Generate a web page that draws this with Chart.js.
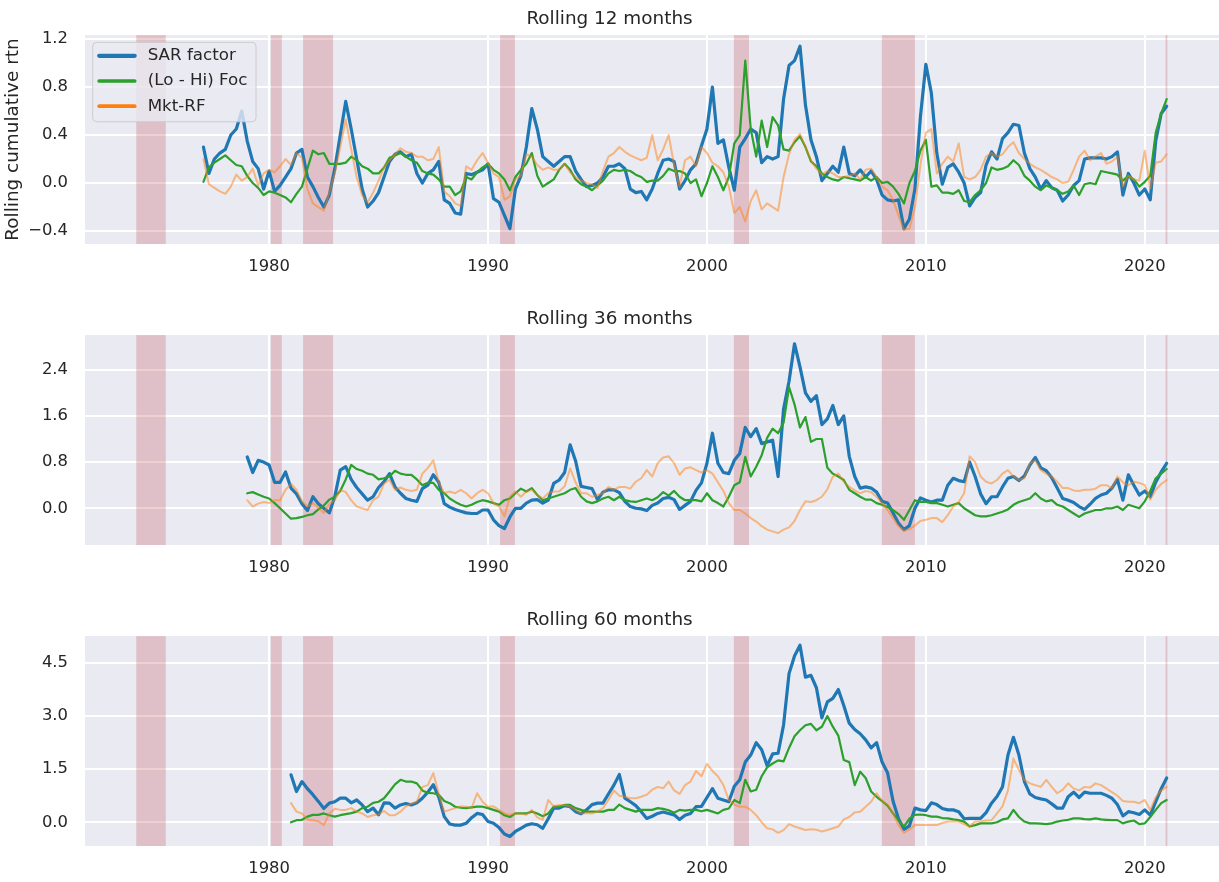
<!DOCTYPE html>
<html>
<head>
<meta charset="utf-8">
<title>Rolling cumulative returns</title>
<script src="https://cdn.jsdelivr.net/npm/chart.js@4.4.1/dist/chart.umd.min.js"></script>
<style>
  html, body { margin: 0; padding: 0; background: #ffffff; }
  #wrap { position: relative; width: 1219px; height: 882px; overflow: hidden; }
  #wrap canvas { position: absolute; left: 0; }
</style>
</head>
<body>
<div id="wrap">
  <canvas id="roll12" width="1219" height="281" style="top:0px"></canvas>
  <canvas id="roll36" width="1219" height="281" style="top:300px"></canvas>
  <canvas id="roll60" width="1219" height="281" style="top:601px"></canvas>
</div>
<script>
// Rolling cumulative return charts (12 / 36 / 60 month windows)

const FONT = 'DejaVu Sans';
const TEXT = '#262626';
const AXES_BG = '#eaeaf2';

// x axis (decimal years)
const xMin = 1971.59;
const xMax = 2023.39;
const yearTicks = [1980, 1990, 2000, 2010, 2020];

// NBER recessions, shaded
const recessions = [
  [1973.93, 1975.28],
  [1980.08, 1980.58],
  [1981.55, 1982.92],
  [1990.55, 1991.23],
  [2001.23, 2001.92],
  [2007.99, 2009.5],
  [2020.95, 2021.03],
];

const seriesNames = ['SAR factor', '(Lo - Hi) Foc', 'Mkt-RF'];
const seriesColors = ['#1f77b4', '#2ca02c', '#ff7f0e'];

// Rolling 12 months, quarterly from 1977.0 to 2021.0
const start12 = 1977;
const sar12 = [
  0.30, 0.08, 0.20, 0.25, 0.28, 0.40, 0.45, 0.60, 0.35, 0.18, 0.12, -0.05,
  0.10, -0.07, -0.02, 0.05, 0.12, 0.25, 0.28, 0.05, -0.03, -0.12, -0.20, -0.10,
  0.12, 0.40, 0.68, 0.45, 0.20, -0.05, -0.20, -0.15, -0.08, 0.05, 0.18, 0.24,
  0.26, 0.22, 0.24, 0.08, 0.00, 0.08, 0.11, 0.18, -0.14, -0.17, -0.25, -0.26,
  0.08, 0.07, 0.09, 0.11, 0.16, -0.13, -0.16, -0.27, -0.38, -0.05, 0.06, 0.30,
  0.62, 0.45, 0.22, 0.18, 0.14, 0.18, 0.22, 0.22, 0.10, 0.03, -0.03, -0.02,
  0.00, 0.05, 0.14, 0.14, 0.16, 0.12, -0.05, -0.08, -0.07, -0.14, -0.05, 0.08,
  0.19, 0.20, 0.18, -0.05, 0.02, 0.11, 0.16, 0.31, 0.45, 0.80, 0.33, 0.36,
  0.13, -0.06, 0.30, 0.37, 0.45, 0.42, 0.17, 0.22, 0.20, 0.22, 0.70, 0.98,
  1.02, 1.14, 0.65, 0.36, 0.22, 0.02, 0.08, 0.14, 0.09, 0.30, 0.08, 0.06,
  0.11, 0.05, 0.10, 0.03, -0.10, -0.14, -0.15, -0.14, -0.38, -0.30, -0.05, 0.55,
  0.99, 0.75, 0.25, -0.01, 0.13, 0.16, 0.09, 0.00, -0.19, -0.12, -0.08, 0.15,
  0.26, 0.20, 0.37, 0.42, 0.49, 0.48, 0.25, 0.12, 0.05, -0.05, 0.02, -0.04,
  -0.06, -0.15, -0.10, -0.02, 0.02, 0.20, 0.21, 0.21, 0.21, 0.20, 0.22, 0.26,
  -0.10, 0.08, 0.00, -0.10, -0.05, -0.14, 0.35, 0.58, 0.64,
];
const foc12 = [
  0.01, 0.13, 0.17, 0.20, 0.23, 0.19, 0.15, 0.14, 0.06, 0.00, -0.04, -0.10,
  -0.07, -0.08, -0.10, -0.12, -0.16, -0.09, -0.03, 0.12, 0.27, 0.24, 0.25, 0.16,
  0.16, 0.16, 0.17, 0.22, 0.19, 0.14, 0.12, 0.08, 0.08, 0.13, 0.21, 0.23,
  0.25, 0.22, 0.19, 0.17, 0.10, 0.08, 0.07, 0.03, -0.03, -0.03, -0.10, -0.07,
  0.05, 0.03, 0.09, 0.13, 0.16, 0.11, 0.08, 0.03, -0.06, 0.05, 0.11, 0.16,
  0.25, 0.06, -0.03, 0.00, 0.03, 0.11, 0.16, 0.11, 0.03, -0.01, -0.03, -0.06,
  -0.02, 0.02, 0.08, 0.11, 0.10, 0.11, 0.10, 0.07, 0.05, 0.01, 0.02, 0.02,
  0.06, 0.12, 0.10, 0.10, 0.08, 0.00, 0.03, -0.11, 0.00, 0.14, 0.05, -0.06,
  0.05, 0.33, 0.40, 1.02, 0.45, 0.22, 0.52, 0.30, 0.55, 0.48, 0.28, 0.27,
  0.34, 0.39, 0.30, 0.18, 0.14, 0.08, 0.05, 0.03, 0.02, 0.05, 0.04, 0.03,
  0.02, 0.05, 0.02, 0.05, 0.00, 0.01, -0.03, -0.09, -0.17, 0.00, 0.10, 0.27,
  0.36, -0.03, -0.02, -0.08, -0.08, -0.09, -0.06, -0.15, -0.16, -0.10, -0.06, 0.00,
  0.13, 0.11, 0.12, 0.14, 0.19, 0.15, 0.06, 0.02, -0.03, -0.06, -0.02, -0.04,
  -0.06, -0.09, -0.07, -0.02, -0.10, -0.01, 0.00, -0.01, 0.10, 0.09, 0.08, 0.07,
  0.02, 0.06, 0.03, -0.03, 0.01, 0.06, 0.42, 0.58, 0.70,
];
const mkt12 = [
  0.20, -0.01, -0.04, -0.07, -0.09, -0.03, 0.07, 0.02, 0.05, 0.12, -0.02, 0.08,
  0.11, 0.09, 0.14, 0.20, 0.15, 0.25, 0.21, -0.05, -0.17, -0.20, -0.23, -0.08,
  0.08, 0.30, 0.53, 0.28, 0.05, -0.10, -0.16, -0.08, 0.02, 0.13, 0.19, 0.24,
  0.29, 0.26, 0.25, 0.22, 0.22, 0.19, 0.20, 0.30, -0.07, -0.11, -0.17, -0.19,
  0.14, 0.11, 0.19, 0.25, 0.17, 0.08, 0.05, -0.14, -0.11, 0.03, 0.06, 0.24,
  0.22, 0.15, 0.11, 0.13, 0.11, 0.11, 0.16, 0.09, 0.05, 0.02, 0.00, -0.01,
  -0.04, 0.10, 0.22, 0.25, 0.30, 0.26, 0.23, 0.21, 0.19, 0.21, 0.40, 0.19,
  0.28, 0.40, 0.15, -0.03, 0.19, 0.22, 0.14, 0.30, 0.25, 0.17, 0.14, 0.09,
  -0.03, -0.25, -0.20, -0.32, -0.15, -0.06, -0.22, -0.17, -0.20, -0.23, 0.05, 0.24,
  0.36, 0.41, 0.30, 0.19, 0.12, 0.07, 0.10, 0.08, 0.05, 0.05, 0.06, 0.08,
  0.03, 0.11, 0.12, 0.05, -0.03, -0.06, -0.14, -0.27, -0.39, -0.38, -0.20, 0.15,
  0.42, 0.45, 0.08, 0.16, 0.22, 0.18, 0.33, 0.05, 0.03, 0.05, 0.11, 0.22,
  0.25, 0.22, 0.24, 0.30, 0.34, 0.25, 0.20, 0.16, 0.13, 0.11, 0.08, 0.05,
  0.03, 0.00, 0.01, 0.11, 0.22, 0.27, 0.19, 0.22, 0.25, 0.16, 0.18, 0.22,
  -0.03, 0.06, 0.03, 0.02, 0.27, -0.05, 0.17, 0.18, 0.24,
];
const yTicks12 = [-0.4, 0.0, 0.4, 0.8, 1.2];

// Rolling 36 months, quarterly from 1979.0 to 2021.0
const start36 = 1979;
const sar36 = [
  0.89, 0.62, 0.83, 0.80, 0.75, 0.45, 0.45, 0.63, 0.35, 0.25, 0.08, -0.04,
  0.20, 0.08, 0.00, -0.08, 0.20, 0.66, 0.72, 0.50, 0.36, 0.25, 0.14, 0.20,
  0.36, 0.46, 0.60, 0.37, 0.26, 0.17, 0.14, 0.12, 0.34, 0.40, 0.58, 0.45,
  0.08, 0.02, -0.02, -0.05, -0.08, -0.09, -0.09, -0.03, -0.03, -0.20, -0.30, -0.35,
  -0.15, 0.00, 0.00, 0.09, 0.14, 0.15, 0.09, 0.14, 0.43, 0.49, 0.62, 1.10,
  0.82, 0.38, 0.36, 0.34, 0.15, 0.28, 0.32, 0.32, 0.27, 0.12, 0.03, 0.00,
  -0.01, -0.04, 0.05, 0.09, 0.17, 0.19, 0.15, -0.02, 0.05, 0.12, 0.31, 0.44,
  0.78, 1.30, 0.78, 0.62, 0.60, 0.83, 0.95, 1.40, 1.24, 1.38, 1.12, 1.15,
  1.18, 0.55, 1.72, 2.20, 2.85, 2.45, 2.00, 1.85, 1.95, 1.45, 1.55, 1.78,
  1.45, 1.60, 0.90, 0.55, 0.35, 0.37, 0.35, 0.28, 0.12, 0.09, -0.08, -0.26,
  -0.37, -0.30, 0.00, 0.18, 0.14, 0.11, 0.14, 0.14, 0.40, 0.52, 0.48, 0.46,
  0.80, 0.55, 0.25, 0.08, 0.20, 0.20, 0.37, 0.52, 0.55, 0.48, 0.56, 0.75,
  0.88, 0.70, 0.65, 0.53, 0.35, 0.17, 0.14, 0.10, 0.03, -0.02, 0.07, 0.17,
  0.23, 0.26, 0.35, 0.50, 0.14, 0.58, 0.40, 0.23, 0.30, 0.20, 0.45, 0.63,
  0.78,
];
const foc36 = [
  0.26, 0.28, 0.24, 0.20, 0.17, 0.09, 0.00, -0.09, -0.18, -0.17, -0.15, -0.12,
  -0.10, -0.02, 0.05, 0.15, 0.20, 0.30, 0.50, 0.75, 0.68, 0.65, 0.60, 0.58,
  0.50, 0.52, 0.55, 0.65, 0.60, 0.58, 0.58, 0.50, 0.40, 0.44, 0.44, 0.32,
  0.26, 0.17, 0.11, 0.06, 0.03, 0.06, 0.11, 0.14, 0.12, 0.09, 0.06, 0.14,
  0.17, 0.26, 0.34, 0.29, 0.35, 0.23, 0.14, 0.17, 0.20, 0.23, 0.26, 0.32,
  0.35, 0.20, 0.12, 0.09, 0.12, 0.17, 0.20, 0.14, 0.20, 0.14, 0.12, 0.11,
  0.14, 0.17, 0.14, 0.19, 0.28, 0.22, 0.30, 0.20, 0.14, 0.14, 0.14, 0.12,
  0.26, 0.14, 0.09, 0.03, 0.20, 0.40, 0.45, 0.89, 0.55, 0.72, 0.92, 1.22,
  1.38, 1.30, 1.48, 2.10, 1.80, 1.40, 1.58, 1.15, 1.20, 1.20, 0.70, 0.60,
  0.55, 0.49, 0.32, 0.26, 0.20, 0.15, 0.15, 0.09, 0.06, 0.02, -0.03, -0.10,
  -0.20, -0.03, 0.14, 0.11, 0.11, 0.09, 0.09, 0.06, 0.03, 0.06, 0.09, 0.00,
  -0.06, -0.12, -0.14, -0.14, -0.12, -0.09, -0.06, -0.02, 0.06, 0.11, 0.14, 0.17,
  0.26, 0.17, 0.12, 0.14, 0.06, 0.03, -0.03, -0.09, -0.15, -0.09, -0.06, -0.03,
  -0.03, 0.00, 0.00, 0.03, -0.03, 0.06, 0.03, 0.00, 0.12, 0.30, 0.52, 0.60,
  0.68,
];
const mkt36 = [
  0.14, 0.03, 0.08, 0.11, 0.09, 0.14, 0.14, 0.32, 0.42, 0.32, 0.12, 0.03,
  0.09, 0.01, -0.08, 0.07, 0.14, 0.32, 0.28, 0.14, 0.03, 0.00, -0.03, 0.14,
  0.20, 0.43, 0.49, 0.32, 0.36, 0.32, 0.30, 0.32, 0.60, 0.70, 0.83, 0.45,
  0.26, 0.29, 0.26, 0.32, 0.26, 0.17, 0.26, 0.32, 0.26, 0.09, 0.03, -0.14,
  0.20, 0.29, 0.20, 0.29, 0.32, 0.23, 0.17, 0.26, 0.29, 0.29, 0.38, 0.69,
  0.45, 0.26, 0.26, 0.20, 0.23, 0.26, 0.37, 0.32, 0.37, 0.37, 0.34, 0.46,
  0.52, 0.66, 0.55, 0.78, 0.88, 0.90, 0.78, 0.58, 0.69, 0.71, 0.66, 0.62,
  0.66, 0.60, 0.45, 0.30, 0.09, -0.03, -0.03, -0.09, -0.17, -0.23, -0.31, -0.37,
  -0.40, -0.43, -0.37, -0.33, -0.22, -0.03, 0.12, 0.11, 0.14, 0.20, 0.33, 0.55,
  0.60, 0.46, 0.37, 0.31, 0.26, 0.30, 0.28, 0.20, 0.09, -0.03, -0.17, -0.31,
  -0.39, -0.36, -0.30, -0.22, -0.20, -0.17, -0.17, -0.24, -0.12, 0.03, 0.11, 0.26,
  0.90, 0.80, 0.55, 0.46, 0.43, 0.49, 0.60, 0.66, 0.55, 0.49, 0.52, 0.78,
  0.83, 0.66, 0.60, 0.55, 0.46, 0.35, 0.35, 0.31, 0.30, 0.32, 0.32, 0.34,
  0.40, 0.40, 0.35, 0.55, 0.45, 0.40, 0.46, 0.44, 0.40, 0.15, 0.32, 0.42,
  0.49,
];
const yTicks36 = [0.0, 0.8, 1.6, 2.4];

// Rolling 60 months, quarterly from 1981.0 to 2021.0
const start60 = 1981;
const sar60 = [
  1.34, 0.87, 1.15, 0.95, 0.78, 0.59, 0.39, 0.54, 0.58, 0.68, 0.68, 0.55,
  0.63, 0.49, 0.30, 0.40, 0.21, 0.55, 0.54, 0.40, 0.49, 0.53, 0.49, 0.55,
  0.68, 0.85, 1.06, 0.71, 0.16, -0.05, -0.08, -0.08, -0.03, 0.13, 0.25, 0.22,
  0.02, -0.03, -0.15, -0.33, -0.40, -0.26, -0.17, -0.08, -0.04, -0.07, -0.17, 0.10,
  0.40, 0.40, 0.47, 0.44, 0.30, 0.24, 0.35, 0.50, 0.54, 0.54, 0.80, 1.05,
  1.35, 0.68, 0.58, 0.47, 0.30, 0.11, 0.17, 0.25, 0.29, 0.25, 0.21, 0.08,
  0.20, 0.25, 0.44, 0.45, 0.70, 0.95, 0.68, 0.63, 0.58, 1.02, 1.20, 1.70,
  1.90, 2.25, 2.05, 1.60, 1.93, 1.95, 2.75, 4.20, 4.70, 5.00, 4.10, 4.15,
  3.80, 2.95, 3.40, 3.50, 3.75, 3.30, 2.80, 2.62, 2.50, 2.33, 2.10, 2.25,
  1.70, 1.40, 0.60, 0.10, -0.20, -0.10, 0.40, 0.35, 0.33, 0.55, 0.50, 0.39,
  0.35, 0.35, 0.30, 0.10, 0.11, 0.11, 0.11, 0.27, 0.54, 0.73, 1.00, 1.90,
  2.40, 1.90, 1.15, 0.80, 0.70, 0.66, 0.63, 0.52, 0.40, 0.40, 0.72, 0.85,
  0.70, 0.85, 0.82, 0.82, 0.82, 0.76, 0.68, 0.50, 0.18, 0.30, 0.27, 0.22,
  0.35, 0.20, 0.58, 0.95, 1.25,
];
const foc60 = [
  0.00, 0.06, 0.07, 0.16, 0.21, 0.21, 0.25, 0.20, 0.16, 0.20, 0.23, 0.26,
  0.30, 0.40, 0.44, 0.55, 0.58, 0.68, 0.87, 1.07, 1.20, 1.15, 1.15, 1.10,
  0.90, 0.83, 0.82, 0.78, 0.60, 0.54, 0.44, 0.41, 0.40, 0.42, 0.44, 0.44,
  0.40, 0.35, 0.30, 0.20, 0.15, 0.25, 0.25, 0.25, 0.30, 0.25, 0.17, 0.25,
  0.44, 0.44, 0.49, 0.49, 0.40, 0.35, 0.30, 0.30, 0.30, 0.30, 0.35, 0.35,
  0.50, 0.40, 0.35, 0.30, 0.35, 0.35, 0.35, 0.40, 0.38, 0.34, 0.27, 0.35,
  0.33, 0.35, 0.35, 0.31, 0.35, 0.30, 0.25, 0.35, 0.39, 0.63, 0.54, 1.20,
  0.87, 0.92, 1.30, 1.55, 1.66, 1.75, 1.72, 2.10, 2.43, 2.60, 2.74, 2.78,
  2.60, 2.70, 3.00, 2.70, 2.45, 1.76, 1.70, 1.05, 1.43, 1.25, 0.87, 0.72,
  0.60, 0.47, 0.25, 0.05, -0.12, 0.10, 0.21, 0.22, 0.20, 0.16, 0.16, 0.12,
  0.11, 0.08, 0.06, 0.02, -0.12, -0.08, -0.03, -0.03, -0.03, 0.00, 0.08, 0.11,
  0.35, 0.15, 0.02, -0.03, -0.03, -0.04, -0.05, -0.03, 0.02, 0.05, 0.07, 0.11,
  0.11, 0.09, 0.08, 0.11, 0.08, 0.07, 0.06, 0.06, -0.03, 0.02, 0.05, -0.05,
  -0.03, 0.15, 0.35, 0.54, 0.63,
];
const mkt60 = [
  0.54, 0.30, 0.25, 0.08, 0.06, 0.03, -0.08, 0.25, 0.38, 0.35, 0.35, 0.40,
  0.30, 0.25, 0.15, 0.20, 0.22, 0.32, 0.20, 0.20, 0.30, 0.45, 0.53, 0.58,
  1.00, 1.05, 1.39, 0.80, 0.30, 0.35, 0.40, 0.45, 0.44, 0.40, 0.82, 0.58,
  0.44, 0.45, 0.35, 0.25, 0.21, 0.25, 0.25, 0.21, 0.35, 0.14, 0.07, 0.63,
  0.45, 0.49, 0.49, 0.44, 0.35, 0.25, 0.26, 0.25, 0.30, 0.40, 0.63, 0.90,
  0.75, 0.72, 0.68, 0.68, 0.72, 0.78, 0.92, 1.00, 0.96, 1.15, 0.90, 0.80,
  1.05, 1.15, 1.45, 1.30, 1.65, 1.45, 1.30, 1.05, 0.63, 0.50, 0.44, 0.44,
  0.35, 0.20, 0.00, -0.17, -0.20, -0.30, -0.22, -0.05, -0.12, -0.17, -0.22, -0.20,
  -0.21, -0.26, -0.22, -0.17, -0.12, 0.08, 0.15, 0.28, 0.30, 0.44, 0.58, 0.82,
  0.60, 0.50, 0.25, -0.08, -0.30, -0.20, -0.08, -0.08, -0.08, -0.08, -0.08, -0.02,
  0.02, 0.02, 0.02, -0.05, -0.12, 0.02, 0.02, 0.05, 0.06, 0.25, 0.45, 0.90,
  1.80, 1.48, 1.20, 1.10, 1.05, 1.00, 1.20, 1.00, 0.82, 0.92, 1.10, 0.95,
  0.90, 1.00, 0.98, 1.10, 1.05, 0.95, 0.85, 0.75, 0.60, 0.58, 0.58, 0.54,
  0.63, 0.35, 0.70, 0.90, 1.00,
];
const yTicks60 = [0.0, 1.5, 3.0, 4.5];

// Chart instances storage
const chartInstances = new Map();

/**
 * Quarterly decimal-year dates for the x axis
 */
function quarterDates(startYear, endYear) {
  const dates = [];
  for (let q = 0; startYear + q / 4 <= endYear; q++) dates.push(startYear + q / 4);
  return dates;
}

// seaborn-like grey axes face
const axesBackground = {
  id: 'axesBackground',
  beforeDraw(chart) {
    const { ctx, chartArea: a } = chart;
    ctx.save();
    ctx.fillStyle = AXES_BG;
    ctx.fillRect(a.left, a.top, a.right - a.left, a.bottom - a.top);
    ctx.restore();
  },
};

// recession shading, above the grid and under the lines
const recessionBands = {
  id: 'recessionBands',
  beforeDatasetsDraw(chart) {
    const { ctx, chartArea: a, scales } = chart;
    ctx.save();
    ctx.beginPath();
    ctx.rect(a.left, a.top, a.right - a.left, a.bottom - a.top);
    ctx.clip();
    ctx.fillStyle = 'rgba(190, 66, 74, 0.25)';
    recessions.forEach(([s, e]) => {
      const x1 = scales.x.getPixelForValue(s);
      const x2 = scales.x.getPixelForValue(e);
      ctx.fillRect(x1, a.top, x2 - x1, a.bottom - a.top);
    });
    ctx.restore();
  },
};

// legend box drawn inside the axes, upper left
const insetLegend = {
  id: 'insetLegend',
  afterDatasetsDraw(chart, args, opts) {
    if (!opts.display) return;
    const { ctx, chartArea: a } = chart;
    const x0 = a.left + 7.7;
    const y0 = a.top + 7.3;
    ctx.save();
    ctx.beginPath();
    ctx.roundRect(x0, y0, 163.3, 79.4, 4);
    ctx.fillStyle = 'rgba(234, 234, 242, 0.8)';
    ctx.fill();
    ctx.strokeStyle = '#cccccc';
    ctx.lineWidth = 1;
    ctx.stroke();
    ctx.font = `16.7px "${FONT}"`;
    ctx.textBaseline = 'middle';
    seriesNames.forEach((name, i) => {
      const cy = y0 + 13.4 + i * 25.2;
      ctx.beginPath();
      ctx.moveTo(x0 + 6.5, cy);
      ctx.lineTo(x0 + 42, cy);
      ctx.strokeStyle = seriesColors[i];
      ctx.lineWidth = i === 0 ? 4.2 : 3.7;
      ctx.lineCap = 'round';
      ctx.stroke();
      ctx.fillStyle = TEXT;
      ctx.fillText(name, x0 + 55, cy);
    });
    ctx.restore();
  },
};

/**
 * Create one rolling-window panel
 * @param {string} canvasId - canvas element ID
 * @param {Object} cfg - series, y range and labels for the panel
 */
function createRollingChart(canvasId, cfg) {
  const ctx = document.getElementById(canvasId);
  if (!ctx) return null;

  const dates = quarterDates(cfg.start, 2021);
  const toPoints = (values) => values.map((v, i) => ({ x: dates[i], y: v }));

  const datasets = [
    { label: seriesNames[0], data: toPoints(cfg.sar), borderColor: seriesColors[0], borderWidth: 3.2, order: 3 },
    { label: seriesNames[1], data: toPoints(cfg.foc), borderColor: seriesColors[1], borderWidth: 2.2, order: 2 },
    { label: seriesNames[2], data: toPoints(cfg.mkt), borderColor: 'rgba(255, 127, 14, 0.5)', borderWidth: 2, order: 1 },
  ].map((ds) => ({
    ...ds,
    pointRadius: 0,
    tension: 0,
    fill: false,
    borderCapStyle: 'round',
    borderJoinStyle: 'round',
  }));

  const tickFont = { family: FONT, size: 16.4 };

  const config = {
    type: 'line',
    data: { datasets },
    options: {
      responsive: false,
      animation: false,
      devicePixelRatio: 1,
      layout: { padding: 0 },
      plugins: {
        legend: { display: false },
        tooltip: { enabled: false },
        title: {
          display: true,
          text: cfg.title,
          color: TEXT,
          font: { family: FONT, size: 18.4, weight: 'normal' },
          padding: { top: 8, bottom: 5 },
        },
        insetLegend: { display: !!cfg.legend },
      },
      scales: {
        x: {
          type: 'linear',
          min: xMin,
          max: xMax,
          afterBuildTicks: (scale) => {
            scale.ticks = yearTicks.map((v) => ({ value: v }));
          },
          afterFit: (scale) => {
            scale.height = cfg.xAxisHeight;
          },
          ticks: {
            color: TEXT,
            font: tickFont,
            padding: 13,
            maxRotation: 0,
            autoSkip: false,
            callback: (v) => String(v),
          },
          grid: { color: '#ffffff', lineWidth: 2, drawTicks: false },
          border: { display: false },
        },
        y: {
          type: 'linear',
          min: cfg.yMin,
          max: cfg.yMax,
          afterBuildTicks: (scale) => {
            scale.ticks = cfg.yTicks.map((v) => ({ value: v }));
          },
          afterFit: (scale) => {
            scale.width = 85;
          },
          ticks: {
            color: TEXT,
            font: tickFont,
            padding: 17,
            callback: (v) => Number(v).toFixed(1).replace('-', '\u2212'),
          },
          grid: { color: '#ffffff', lineWidth: 2, drawTicks: false },
          border: { display: false },
          title: {
            display: !!cfg.yLabel,
            text: cfg.yLabel || '',
            color: TEXT,
            font: { family: FONT, size: 18.4 },
            padding: { top: 2, bottom: 0 },
          },
        },
      },
    },
    plugins: [axesBackground, recessionBands, insetLegend],
  };

  const chart = new Chart(ctx, config);
  chartInstances.set(canvasId, chart);
  return chart;
}

createRollingChart('roll12', {
  title: 'Rolling 12 months',
  start: start12,
  sar: sar12,
  foc: foc12,
  mkt: mkt12,
  yMin: -0.508,
  yMax: 1.233,
  yTicks: yTicks12,
  yLabel: 'Rolling cumulative rtn',
  legend: true,
  xAxisHeight: 37,
});

createRollingChart('roll36', {
  title: 'Rolling 36 months',
  start: start36,
  sar: sar36,
  foc: foc36,
  mkt: mkt36,
  yMin: -0.636,
  yMax: 3.0,
  yTicks: yTicks36,
  xAxisHeight: 36,
});

createRollingChart('roll60', {
  title: 'Rolling 60 months',
  start: start60,
  sar: sar60,
  foc: foc60,
  mkt: mkt60,
  yMin: -0.67,
  yMax: 5.26,
  yTicks: yTicks60,
  xAxisHeight: 36,
});
</script>
</body>
</html>
